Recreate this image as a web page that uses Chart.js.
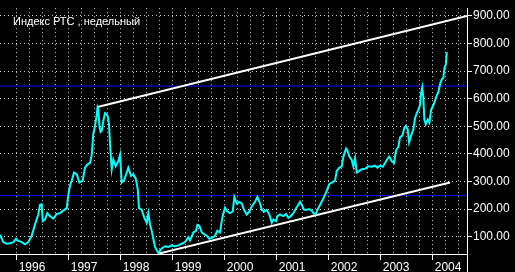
<!DOCTYPE html>
<html>
<head>
<meta charset="utf-8">
<script src="https://cdn.jsdelivr.net/npm/chart.js@4"></script>
<style>
html,body{margin:0;padding:0;background:#000;}
canvas{display:block;}
</style>
</head>
<body>
<canvas id="c" width="515" height="272"></canvas>
<script>
// Weekly RTS index (decimal years)
const weeks = [1995.679,1995.742,1995.808,1995.871,1995.935,1995.987,1996.031,1996.096,1996.160,1996.223,1996.288,1996.352,1996.415,1996.448,1996.481,1996.500,1996.544,1996.588,1996.640,1996.704,1996.769,1996.833,1996.896,1996.962,1996.992,1997.025,1997.058,1997.102,1997.154,1997.204,1997.269,1997.313,1997.358,1997.410,1997.442,1997.473,1997.506,1997.538,1997.554,1997.569,1997.592,1997.612,1997.635,1997.665,1997.698,1997.727,1997.750,1997.775,1997.794,1997.827,1997.858,1997.904,1997.954,1997.987,1998.019,1998.069,1998.115,1998.146,1998.198,1998.242,1998.288,1998.327,1998.352,1998.404,1998.454,1998.500,1998.531,1998.563,1998.596,1998.627,1998.660,1998.692,1998.723,1998.788,1998.852,1998.915,1998.981,1999.044,1999.108,1999.173,1999.237,1999.300,1999.333,1999.396,1999.448,1999.473,1999.512,1999.558,1999.602,1999.654,1999.704,1999.750,1999.813,1999.858,1999.910,1999.942,1999.973,2000.006,2000.050,2000.102,2000.154,2000.185,2000.231,2000.281,2000.327,2000.371,2000.423,2000.473,2000.519,2000.583,2000.627,2000.679,2000.712,2000.756,2000.808,2000.858,2000.904,2000.935,2000.987,2001.012,2001.063,2001.127,2001.179,2001.223,2001.269,2001.319,2001.371,2001.415,2001.448,2001.481,2001.525,2001.577,2001.627,2001.673,2001.717,2001.756,2001.800,2001.846,2001.896,2001.962,2002.012,2002.058,2002.121,2002.154,2002.204,2002.250,2002.281,2002.333,2002.358,2002.396,2002.442,2002.473,2002.506,2002.538,2002.588,2002.635,2002.698,2002.762,2002.827,2002.890,2002.935,2002.987,2003.038,2003.083,2003.115,2003.160,2003.212,2003.256,2003.294,2003.338,2003.371,2003.415,2003.454,2003.481,2003.519,2003.544,2003.583,2003.627,2003.660,2003.692,2003.723,2003.754,2003.773,2003.798,2003.817,2003.838,2003.865,2003.904,2003.935,2003.967,2004.012,2004.044,2004.077,2004.108,2004.140,2004.173,2004.204,2004.223,2004.250,2004.269];
const rts = [107,80,74,76,80,92,84,80,72,80,103,144,180,215,217,156,162,185,174,165,182,185,194,203,250,285,303,332,326,296,303,350,361,367,396,472,501,540,568,560,500,480,484,519,548,545,536,507,437,344,379,355,373,396,296,306,332,350,320,326,311,273,203,197,168,150,185,144,121,92,62,51,41,57,65,62,68,65,68,74,80,98,86,115,121,142,139,115,109,103,92,95,103,121,115,156,185,205,191,185,191,244,220,226,220,197,180,191,209,226,244,220,197,191,197,180,150,162,156,174,180,174,182,168,174,185,203,215,226,215,197,197,200,194,182,185,203,220,238,267,291,296,303,338,350,355,390,419,413,390,378,355,384,332,338,344,346,355,353,357,350,357,353,367,378,390,373,367,413,425,460,466,495,501,489,442,466,489,530,548,559,577,618,641,606,524,507,524,513,559,577,594,612,624,653,670,676,711,723,769,783];

// Trend channel and horizontal levels
const upperTrendX = [1997.554, 2004.658];
const upperTrendY = [570, 900];
const lowerTrendX = [1998.723, 2004.333];
const lowerTrendY = [38, 296];
const levels = [645.6, 249.1];

// Axes
const xMin = 1995.679, xMax = 2004.658;
const yMin = 36.84, yMax = 928.07;
const yearTicks = [1996,1997,1998,1999,2000,2001,2002,2003,2004];
const yTicks = [100,200,300,400,500,600,700,800,900];
const titleText = 'Индекс РТС , недельный';

const pts = (xs, ys) => xs.map((x, i) => ({x: x, y: ys[i]}));
const quarterTicks = [];
for (let q = 0; q <= 34; q++) quarterTicks.push(1996 + q * 0.25);
const isYear = v => yearTicks.some(y => Math.abs(v - y) < 1e-6);

const FONT = {family: '"Liberation Sans", Arial, sans-serif', size: 12};

const overlay = {
  id: 'overlay',
  afterDraw(chart) {
    const ctx = chart.ctx;
    const a = chart.chartArea;
    ctx.save();
    ctx.strokeStyle = '#ffffff';
    ctx.lineWidth = 1;
    ctx.beginPath();
    ctx.moveTo(Math.round(a.right) + 0.5, a.bottom);
    ctx.lineTo(Math.round(a.right) + 0.5, chart.height);
    ctx.stroke();
    ctx.fillStyle = '#ffffff';
    ctx.font = '11px "Liberation Sans", Arial, sans-serif';
    ctx.textBaseline = 'alphabetic';
    ctx.fillText(titleText, 13, 25);
    ctx.restore();
  }
};

new Chart(document.getElementById('c'), {
  type: 'line',
  data: {
    datasets: [
      {data: pts(weeks, rts), borderColor: '#00ffff', borderWidth: 2, pointRadius: 0, tension: 0, fill: false},
      {data: pts(upperTrendX, upperTrendY), borderColor: '#ffffff', borderWidth: 2, pointRadius: 0, fill: false},
      {data: pts(lowerTrendX, lowerTrendY), borderColor: '#ffffff', borderWidth: 2, pointRadius: 0, fill: false},
      {data: pts([xMin, xMax], [levels[0], levels[0]]), borderColor: '#0000ff', borderWidth: 1, pointRadius: 0, fill: false},
      {data: pts([xMin, xMax], [levels[1], levels[1]]), borderColor: '#0000ff', borderWidth: 1, pointRadius: 0, fill: false}
    ]
  },
  options: {
    responsive: false,
    animation: false,
    devicePixelRatio: 1,
    layout: {padding: 0},
    plugins: {legend: {display: false}, tooltip: {enabled: false}, title: {display: false}},
    scales: {
      x: {
        type: 'linear', position: 'bottom', min: xMin, max: xMax,
        afterBuildTicks: s => { s.ticks = quarterTicks.map(v => ({value: v})); },
        afterFit: s => { s.height = 18; },
        ticks: {
          autoSkip: false, maxRotation: 0, minRotation: 0, align: 'start', labelOffset: 2, padding: 0,
          color: '#ffffff', font: FONT,
          callback: v => isYear(v) ? String(Math.round(v)) : ''
        },
        grid: {
          color: '#d0d0d0', lineWidth: 1, tickLength: 6, tickWidth: 1,
          tickColor: c => (c.tick && isYear(c.tick.value)) ? '#ffffff' : 'rgba(0,0,0,0)'
        },
        border: {display: true, color: '#ffffff', width: 1, dash: [1, 3]}
      },
      y: {
        type: 'linear', position: 'right', min: yMin, max: yMax,
        afterBuildTicks: s => { s.ticks = yTicks.map(v => ({value: v})); },
        afterFit: s => { s.width = 48; },
        ticks: {color: '#ffffff', font: FONT, padding: 1, callback: v => Number(v).toFixed(2)},
        grid: {color: '#d0d0d0', lineWidth: 1, tickLength: 5, tickColor: '#ffffff'},
        border: {display: true, color: '#ffffff', width: 1, dash: [1, 3]}
      }
    }
  },
  plugins: [overlay]
});
</script>
</body>
</html>
